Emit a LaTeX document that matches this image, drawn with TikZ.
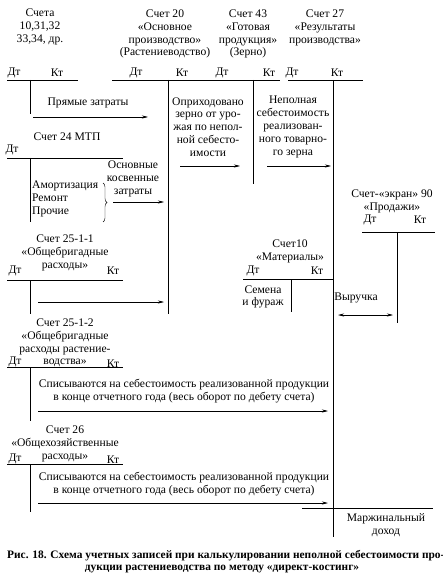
\documentclass[tikz,border=0pt]{standalone}
\usepackage{fontspec}
\setmainfont{Liberation Serif}
\usetikzlibrary{arrows.meta, decorations.pathreplacing}

\begin{document}
\begin{tikzpicture}[>={Stealth[length=6pt, width=3pt]}, x=1pt, y=-1pt,
    every node/.style={font=\fontsize{11.6}{12.8}\selectfont, inner sep=0pt, align=center},
    tline/.style={line width=0.9pt},
    flow/.style={->, line width=0.6pt}]
    \useasboundingbox (0,0) rectangle (443,585);

    % Счета 10, 31, 32 ...
    \node (sch) at (40,27) {Счета\\10,31,32\\33,34, др.};
    \node (schDt) at (14,73) {Дт};
    \node (schKt) at (57,73) {Кт};
    \draw[tline] (7,80) -- (78,80);
    \draw[tline] (30,80) -- (30,114);

    % Счет 20 и Счет 43
    \node (s20) at (165,34) {Счет 20\\«Основное\\производство»\\(Растениеводство)};
    \node (s20Dt) at (136,73) {Дт};
    \node (s20Kt) at (182,73) {Кт};
    \node (s43) at (248,34) {Счет 43\\«Готовая\\продукция»\\(Зерно)};
    \node (s43Dt) at (222,73) {Дт};
    \node (s43Kt) at (269,73) {Кт};
    \draw[tline] (112,80) -- (280,80);
    \draw[tline] (168,80) -- (168,314);
    \draw[tline] (253,80) -- (253,184);

    % Счет 27
    \node (s27) at (325,28) {Счет 27\\«Результаты\\производства»};
    \node (s27Dt) at (292,73) {Дт};
    \node (s27Kt) at (337,73) {Кт};
    \draw[tline] (288,80) -- (363,80);
    \draw[tline] (333,80) -- (333,537);

    % Прямые затраты
    \node (pryam) at (88,103) {Прямые затраты};
    \coordinate (pryamA) at (33,117);
    \coordinate (pryamB) at (148,117);
    \draw[flow] (pryamA) -- (pryamB);

    % Оприходовано зерно / неполная себестоимость
    \node (oprih) at (208,127) {Оприходовано\\зерно от уро-\\жая по непол-\\ной себесто-\\имости};
    \coordinate (oprihA) at (180,166);
    \coordinate (oprihB) at (240,166);
    \draw[flow] (oprihA) -- (oprihB);
    \node (nepol) at (293,127) {Неполная\\себестоимость\\реализован-\\ного товарно-\\го зерна};
    \coordinate (nepolA) at (267,166);
    \coordinate (nepolB) at (331,166);
    \draw[flow] (nepolA) -- (nepolB);

    % Счет 24 МТП
    \node (s24) at (67,137) {Счет 24 МТП};
    \node (s24Dt) at (12,150) {Дт};
    \draw[tline] (7,158) -- (123,158);
    \draw[tline] (30,158) -- (30,222);
    \node[anchor=west, align=left] (amort) at (32,199) {Амортизация\\Ремонт\\Прочие};
    \draw[decorate, decoration={brace, amplitude=4pt}] (103,183) -- (103,222);
    \node (kosv) at (133,179) {Основные\\косвенные\\затраты};
    \coordinate (kosvA) at (113,202);
    \coordinate (kosvB) at (164,202);
    \draw[flow] (kosvA) -- (kosvB);

    % Счет 25-1-1
    \node (s2511) at (65,253) {Счет 25-1-1\\«Общебригадные\\расходы»};
    \node (s2511Dt) at (15,271) {Дт};
    \node (s2511Kt) at (113,271) {Кт};
    \draw[tline] (7,280) -- (123,280);
    \draw[tline] (30,280) -- (30,314);
    \coordinate (obA) at (38,302);
    \coordinate (obB) at (164,302);
    \draw[flow] (obA) -- (obB);

    % Счет 90 «Продажи»
    \node (s90) at (392,201) {Счет-«экран» 90\\«Продажи»};
    \node (s90Dt) at (370,220) {Дт};
    \node (s90Kt) at (420,220) {Кт};
    \draw[tline] (362,232) -- (435,232);
    \draw[tline] (397,232) -- (397,323);

    % Счет 10 «Материалы»
    \node (s10m) at (290,251) {Счет10\\«Материалы»};
    \node (s10mDt) at (253,271) {Дт};
    \node (s10mKt) at (317,271) {Кт};
    \draw[tline] (243,279) -- (333,279);
    \draw[tline] (291,279) -- (291,312);
    \node (semena) at (263,297) {Семена\\и фураж};

    % Выручка
    \node (vyr) at (356,298) {Выручка};
    \coordinate (vyrA) at (338,315);
    \coordinate (vyrB) at (393,315);
    \draw[flow, <->] (vyrA) -- (vyrB);

    % Счет 25-1-2
    \node (s2512) at (65,343) {Счет 25-1-2\\«Общебригадные\\расходы растение-\\водства»};
    \node (s2512Dt) at (15,362) {Дт};
    \node (s2512Kt) at (113,364) {Кт};
    \draw[tline] (7,367) -- (123,367);
    \draw[tline] (30,367) -- (30,421);
    \node (spis1) at (184,391) {Списываются на себестоимость реализованной продукции\\в конце отчетного года (весь оборот по дебету счета)};
    \coordinate (spis1A) at (38,411);
    \coordinate (spis1B) at (328,411);
    \draw[flow] (spis1A) -- (spis1B);

    % Счет 26
    \node (s26) at (65,444) {Счет 26\\«Общехозяйственные\\расходы»};
    \node (s26Dt) at (15,459) {Дт};
    \node (s26Kt) at (113,460) {Кт};
    \draw[tline] (7,464) -- (123,464);
    \draw[tline] (30,464) -- (30,512);
    \node (spis2) at (184,484) {Списываются на себестоимость реализованной продукции\\в конце отчетного года (весь оборот по дебету счета)};
    \coordinate (spis2A) at (38,503);
    \coordinate (spis2B) at (328,503);
    \draw[flow] (spis2A) -- (spis2B);

    % Маржинальный доход
    \draw[tline] (302,508) -- (433,508);
    \node (marzh) at (386,525) {Маржинальный\\доход};

    % Подпись
    \node[anchor=west, font=\fontsize{11.4}{12.8}\selectfont\bfseries] (cap1) at (7,556) {Рис. 18. Схема учетных записей при калькулировании неполной себестоимости про-};
    \node[font=\fontsize{11.4}{12.8}\selectfont\bfseries] (cap2) at (222,569) {дукции растениеводства по методу «директ-костинг»};
\end{tikzpicture}
\end{document}
